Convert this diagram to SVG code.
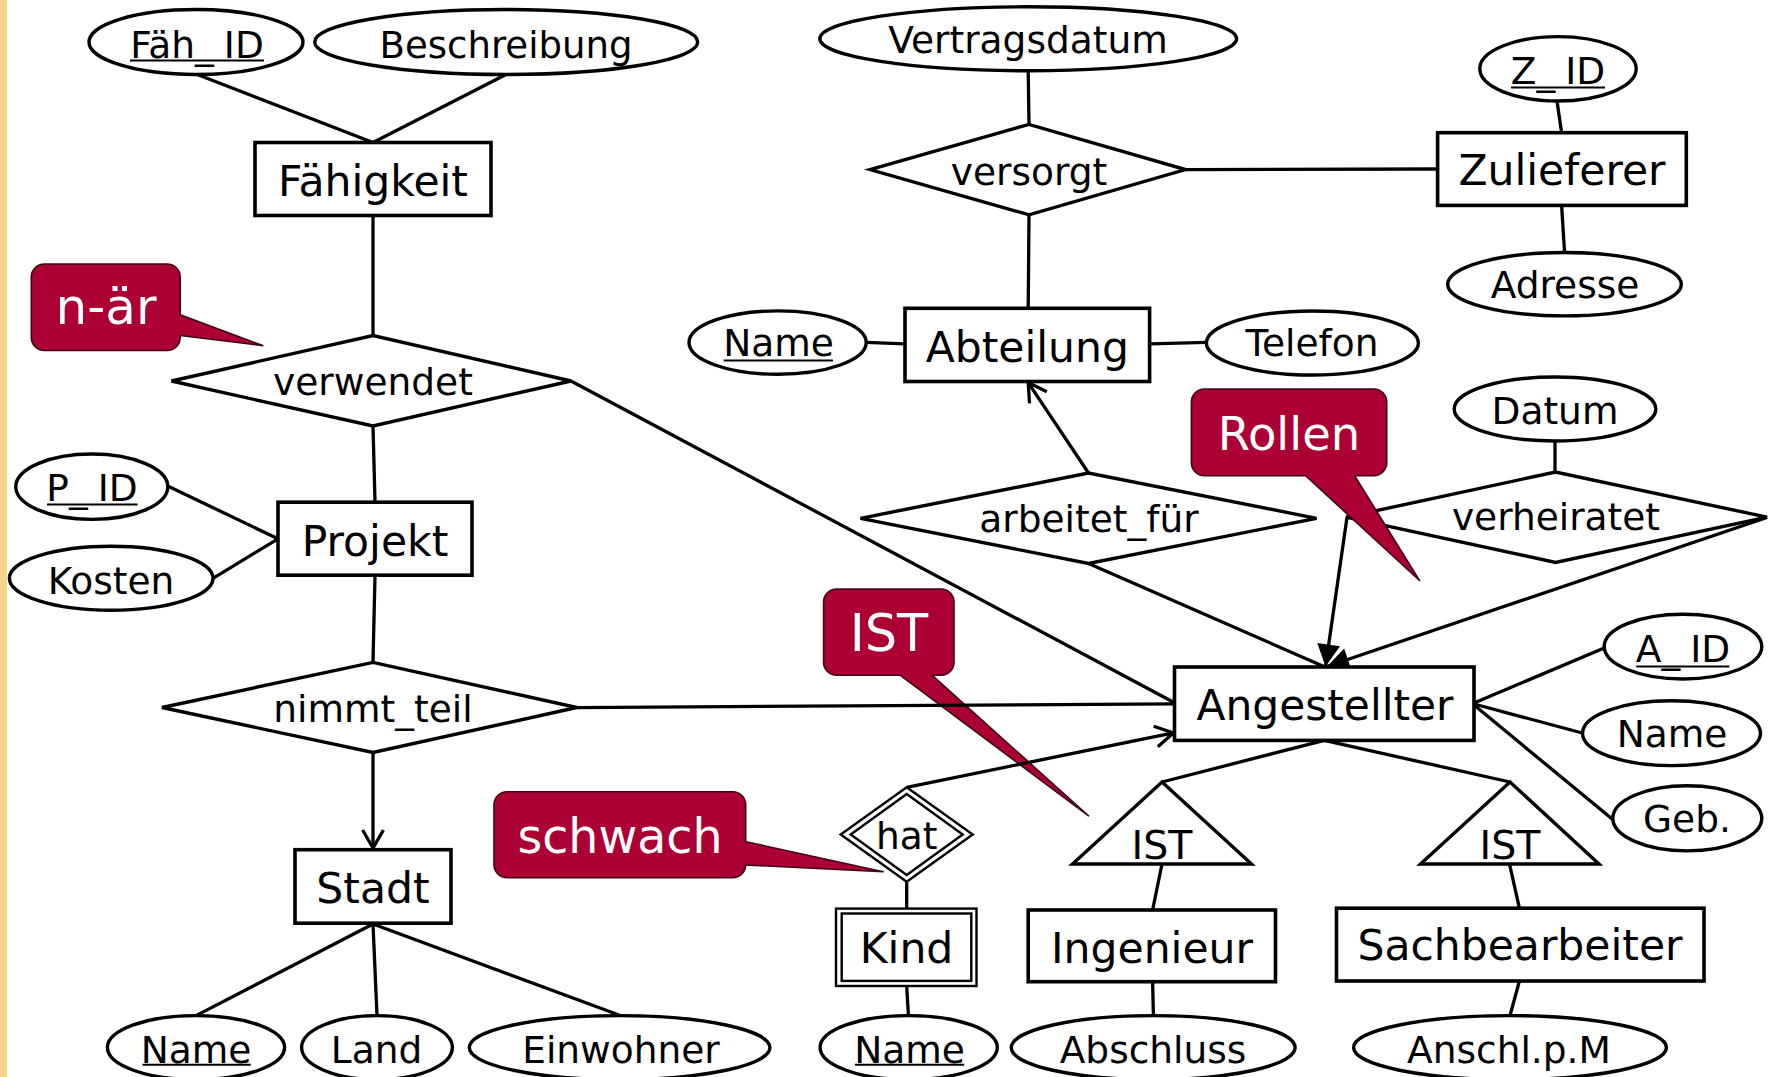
<svg xmlns="http://www.w3.org/2000/svg" width="1773" height="1077" viewBox="0 0 1773 1077">
  <defs>
    <style>
      .bg { fill: #ffffff; }
      .stripe { fill: #F9D38A; }
      .ent { fill: #ffffff; stroke: #000; stroke-width: 3.6; }
      .att { fill: #ffffff; stroke: #000; stroke-width: 3.4; }
      .rel { fill: #ffffff; stroke: #000; stroke-width: 3.4; stroke-linejoin: miter; }
      .weak { fill: #ffffff; stroke: #000; stroke-width: 2.4; }
      .isa { fill: #ffffff; stroke: #000; stroke-width: 3.4; stroke-linejoin: miter; }
      .con line { stroke: #000; stroke-width: 3.3; fill: none; }
      .ul { stroke: #000; stroke-width: 2; }
      text { font-family: "DejaVu Sans", Verdana, sans-serif; text-anchor: middle; fill: #000; }
      .t-ent { font-size: 42.5px; }
      .t-att { font-size: 37.5px; }
      .t-rel { font-size: 37.5px; }
      .t-isa { font-size: 39.5px; }
      .note { fill: #AC0034; stroke: #3d0612; stroke-width: 1.6; stroke-linejoin: round; }
      .t-note { fill: #ffffff; }
    </style>
    <marker id="open" viewBox="0 0 24 24" markerWidth="24" markerHeight="24" refX="22" refY="12" orient="auto" markerUnits="userSpaceOnUse">
      <path d="M4,1.6 L22,12 L4,22.4" fill="none" stroke="#000" stroke-width="3.3"/>
    </marker>
    <marker id="solid" viewBox="0 0 24 24" markerWidth="24" markerHeight="24" refX="23" refY="12" orient="auto" markerUnits="userSpaceOnUse">
      <path d="M1,0.5 L23,12 L1,23.5 Z" fill="#000"/>
    </marker>
  </defs>

  <rect class="bg" x="0" y="0" width="1773" height="1077"/>
  <rect class="stripe" x="0" y="0" width="7" height="1077"/>

  <!-- callout that sits beneath the connectors -->
  <g id="note-ist">
    <path class="note" d="M836.6,589 H941 A13,13 0 0 1 954,602 V662.2 A13,13 0 0 1 941,675.2 H932 L1088.5,815.8 L900,675.2 H836.6 A13,13 0 0 1 823.6,662.2 V602 A13,13 0 0 1 836.6,589 Z"/>
    <text class="t-note" x="889" y="650.5" font-size="51">IST</text>
  </g>

  <!-- connectors -->
  <g id="connectors" class="con">
    <line x1="196" y1="74" x2="373" y2="142.5"/>
    <line x1="505" y1="75" x2="373" y2="142.5"/>
    <line x1="373" y1="215.6" x2="373" y2="335.5"/>
    <line x1="373" y1="426" x2="375" y2="502.2"/>
    <line x1="167.7" y1="486" x2="278" y2="538.8"/>
    <line x1="213" y1="578.3" x2="278" y2="538.8"/>
    <line x1="375" y1="575.3" x2="373" y2="662.4"/>
    <line x1="373" y1="752.5" x2="373" y2="848" marker-end="url(#open)"/>
    <line x1="373" y1="924" x2="196" y2="1015.6"/>
    <line x1="373" y1="924" x2="377" y2="1015.6"/>
    <line x1="373" y1="924" x2="619" y2="1015"/>
    <line x1="571" y1="381" x2="1174.5" y2="702.7"/>
    <line x1="576.7" y1="707.6" x2="1174.5" y2="703.9"/>
    <line x1="1028.2" y1="71" x2="1029" y2="124.4"/>
    <line x1="1185" y1="169.6" x2="1437.6" y2="169"/>
    <line x1="1029" y1="214.8" x2="1028.2" y2="308.3"/>
    <line x1="1557" y1="101" x2="1561.6" y2="132.7"/>
    <line x1="1561.6" y1="205.4" x2="1564.6" y2="252.5"/>
    <line x1="866.2" y1="342.3" x2="905" y2="343.8"/>
    <line x1="1149.6" y1="343.8" x2="1206.5" y2="342.3"/>
    <line x1="1088.5" y1="473" x2="1028.2" y2="382.6" marker-end="url(#open)"/>
    <line x1="1088.5" y1="563.5" x2="1325" y2="667"/>
    <line x1="1555" y1="441" x2="1555" y2="472"/>
    <line x1="1347" y1="517.5" x2="1325.5" y2="666.5" marker-end="url(#solid)"/>
    <line x1="1767" y1="517.5" x2="1327" y2="666.5" marker-end="url(#solid)"/>
    <line x1="1474" y1="703" x2="1604.2" y2="648"/>
    <line x1="1474" y1="704" x2="1582.3" y2="733"/>
    <line x1="1474" y1="705" x2="1612.8" y2="819.6"/>
    <line x1="906.7" y1="787.3" x2="1173.4" y2="732.9" marker-end="url(#open)"/>
    <line x1="906.7" y1="881.7" x2="906.7" y2="908.6"/>
    <line x1="906.7" y1="986" x2="908.4" y2="1015.6"/>
    <line x1="1324.3" y1="740.4" x2="1162" y2="782"/>
    <line x1="1324.3" y1="740.4" x2="1510" y2="782"/>
    <line x1="1162" y1="864" x2="1152.6" y2="910"/>
    <line x1="1509.5" y1="864" x2="1519.4" y2="908.2"/>
    <line x1="1152.6" y1="982" x2="1153.4" y2="1015.6"/>
    <line x1="1519.4" y1="981" x2="1510" y2="1015.6"/>
  </g>

  <!-- entity sets -->
  <g id="faehigkeit">
    <rect class="ent" x="255" y="142.5" width="236" height="73"/>
    <text class="t-ent" x="373" y="196">Fähigkeit</text>
  </g>
  <g id="projekt">
    <rect class="ent" x="278" y="502.2" width="194" height="73"/>
    <text class="t-ent" x="375" y="555.5">Projekt</text>
  </g>
  <g id="stadt">
    <rect class="ent" x="295" y="849.7" width="156" height="73.5"/>
    <text class="t-ent" x="373" y="902.5">Stadt</text>
  </g>
  <g id="abteilung">
    <rect class="ent" x="905" y="308.3" width="244.6" height="73.2"/>
    <text class="t-ent" x="1027.3" y="361.8">Abteilung</text>
  </g>
  <g id="zulieferer">
    <rect class="ent" x="1437.6" y="132.7" width="248.7" height="72.7"/>
    <text class="t-ent" x="1562" y="185">Zulieferer</text>
  </g>
  <g id="angestellter">
    <rect class="ent" x="1174.5" y="667" width="299.5" height="73.4"/>
    <text class="t-ent" x="1325" y="719.7" textLength="257" lengthAdjust="spacingAndGlyphs">Angestellter</text>
  </g>
  <g id="ingenieur">
    <rect class="ent" x="1028.2" y="910" width="247.3" height="71.7"/>
    <text class="t-ent" x="1152" y="962.6">Ingenieur</text>
  </g>
  <g id="sachbearbeiter">
    <rect class="ent" x="1336.5" y="908.2" width="367.5" height="72.8"/>
    <text class="t-ent" x="1520" y="960.2">Sachbearbeiter</text>
  </g>
  <g id="kind">
    <rect class="weak" x="836" y="908.6" width="140.5" height="77.4"/>
    <rect class="weak" x="841.7" y="913.5" width="129.6" height="67.4"/>
    <text class="t-ent" x="906.5" y="963.3">Kind</text>
  </g>

  <!-- relationships -->
  <g id="verwendet">
    <polygon class="rel" points="171.5,381 373,335.5 571,381 373,426"/>
    <text class="t-rel" x="373" y="395">verwendet</text>
  </g>
  <g id="nimmt-teil">
    <polygon class="rel" points="162,707.5 373,662.4 576.7,707.5 373,752.5"/>
    <text class="t-rel" x="373" y="722">nimmt_teil</text>
  </g>
  <g id="versorgt">
    <polygon class="rel" points="870,169.6 1029,124.4 1185.5,169.6 1029,214.8"/>
    <text class="t-rel" x="1029" y="184.5">versorgt</text>
  </g>
  <g id="arbeitet-fuer">
    <polygon class="rel" points="860.5,518.3 1088.5,473 1316.5,518.3 1088.5,563.5"/>
    <text class="t-rel" x="1089" y="531.5">arbeitet_für</text>
  </g>
  <g id="verheiratet">
    <polygon class="rel" points="1346,517.2 1555.5,472 1767,517.2 1555.5,562.4"/>
    <text class="t-rel" x="1556" y="529.8">verheiratet</text>
  </g>
  <g id="hat">
    <polygon class="weak" points="840.7,834.5 906.7,787.3 972.7,834.5 906.7,881.7"/>
    <polygon class="weak" points="850.7,834.5 906.7,794 962.7,834.5 906.7,875"/>
    <text class="t-rel" x="906.7" y="849">hat</text>
  </g>

  <!-- specialisations -->
  <g id="ist-ingenieur">
    <polygon class="isa" points="1162,782 1251.5,864 1072.5,864"/>
    <text class="t-isa" x="1162" y="859">IST</text>
  </g>
  <g id="ist-sachbearbeiter">
    <polygon class="isa" points="1510,782 1599,864 1420.5,864"/>
    <text class="t-isa" x="1510" y="859">IST</text>
  </g>

  <!-- attributes -->
  <g id="att-faeh-id">
    <ellipse class="att" cx="196" cy="42" rx="107" ry="32.5"/>
    <text class="t-att" x="197" y="58.4">Fäh_<tspan dx="10">ID</tspan></text>
    <line class="ul" x1="130" y1="60.6" x2="264" y2="60.6"/>
  </g>
  <g id="att-beschreibung">
    <ellipse class="att" cx="506.2" cy="42" rx="191.5" ry="32.5"/>
    <text class="t-att" x="506" y="58.4" textLength="253" lengthAdjust="spacingAndGlyphs">Beschreibung</text>
  </g>
  <g id="att-p-id">
    <ellipse class="att" cx="91.8" cy="486.7" rx="76" ry="32.7"/>
    <text class="t-att" x="92" y="501.3">P_<tspan dx="10">ID</tspan></text>
    <line class="ul" x1="47" y1="504.5" x2="137.6" y2="504.5"/>
  </g>
  <g id="att-kosten">
    <ellipse class="att" cx="111.2" cy="578.3" rx="101.8" ry="32"/>
    <text class="t-att" x="111" y="593.8">Kosten</text>
  </g>
  <g id="att-stadt-name">
    <ellipse class="att" cx="196" cy="1047.6" rx="88.6" ry="32"/>
    <text class="t-att" x="196" y="1062.7">Name</text>
    <line class="ul" x1="142.5" y1="1064.8" x2="250.7" y2="1064.8"/>
  </g>
  <g id="att-land">
    <ellipse class="att" cx="377" cy="1047.6" rx="75.4" ry="32"/>
    <text class="t-att" x="376.5" y="1062.7">Land</text>
  </g>
  <g id="att-einwohner">
    <ellipse class="att" cx="619.6" cy="1047.6" rx="150.3" ry="32"/>
    <text class="t-att" x="621" y="1062.7">Einwohner</text>
  </g>
  <g id="att-vertragsdatum">
    <ellipse class="att" cx="1028.2" cy="38.8" rx="208.4" ry="32"/>
    <text class="t-att" x="1028" y="52.8">Vertragsdatum</text>
  </g>
  <g id="att-z-id">
    <ellipse class="att" cx="1558" cy="68.8" rx="78.2" ry="32.2"/>
    <text class="t-att" x="1558" y="83.7">Z_<tspan dx="10">ID</tspan></text>
    <line class="ul" x1="1511" y1="87.6" x2="1605" y2="87.6"/>
  </g>
  <g id="att-adresse">
    <ellipse class="att" cx="1564.5" cy="284.2" rx="116.8" ry="31.7"/>
    <text class="t-att" x="1565" y="297.8">Adresse</text>
  </g>
  <g id="att-abteilung-name">
    <ellipse class="att" cx="777.6" cy="342.6" rx="88.6" ry="31.7"/>
    <text class="t-att" x="778.5" y="356.2">Name</text>
    <line class="ul" x1="723.7" y1="360.6" x2="833" y2="360.6"/>
  </g>
  <g id="att-telefon">
    <ellipse class="att" cx="1312.4" cy="343" rx="106" ry="32"/>
    <text class="t-att" x="1312" y="356.2">Telefon</text>
  </g>
  <g id="att-datum">
    <ellipse class="att" cx="1555" cy="409" rx="100.8" ry="32"/>
    <text class="t-att" x="1555" y="424">Datum</text>
  </g>
  <g id="att-a-id">
    <ellipse class="att" cx="1683" cy="646.6" rx="78.8" ry="32.4"/>
    <text class="t-att" x="1683" y="662.4">A_<tspan dx="10">ID</tspan></text>
    <line class="ul" x1="1636.2" y1="666.6" x2="1729.3" y2="666.6"/>
  </g>
  <g id="att-angestellter-name">
    <ellipse class="att" cx="1671.5" cy="733.2" rx="89" ry="32.4"/>
    <text class="t-att" x="1672" y="746.8">Name</text>
  </g>
  <g id="att-geb">
    <ellipse class="att" cx="1687.3" cy="818.3" rx="74.5" ry="32.6"/>
    <text class="t-att" x="1687" y="832">Geb.</text>
  </g>
  <g id="att-kind-name">
    <ellipse class="att" cx="908.7" cy="1047.6" rx="88.6" ry="32"/>
    <text class="t-att" x="909.5" y="1062.7">Name</text>
    <line class="ul" x1="854.9" y1="1064.8" x2="964.2" y2="1064.8"/>
  </g>
  <g id="att-abschluss">
    <ellipse class="att" cx="1153.2" cy="1047.6" rx="141.9" ry="32"/>
    <text class="t-att" x="1153" y="1062.7">Abschluss</text>
  </g>
  <g id="att-anschl">
    <ellipse class="att" cx="1510" cy="1047.6" rx="156.4" ry="32"/>
    <text class="t-att" x="1509" y="1062.7">Anschl.p.M</text>
  </g>

  <!-- callouts -->
  <g id="note-naer">
    <path class="note" d="M44.3,264 H167.2 A13,13 0 0 1 180.2,277 V314.7 L262.7,345.6 L180.2,335.5 V337.5 A13,13 0 0 1 167.2,350.5 H44.3 A13,13 0 0 1 31.3,337.5 V277 A13,13 0 0 1 44.3,264 Z"/>
    <text class="t-note" x="106" y="324.2" font-size="50">n-är</text>
  </g>
  <g id="note-rollen">
    <path class="note" d="M1204.4,389 H1373.7 A13,13 0 0 1 1386.7,402 V462.7 A13,13 0 0 1 1373.7,475.7 H1354.6 L1419.5,580.5 L1305.6,475.7 H1204.4 A13,13 0 0 1 1191.4,462.7 V402 A13,13 0 0 1 1204.4,389 Z"/>
    <text class="t-note" x="1289" y="450.4" font-size="46.5">Rollen</text>
  </g>
  <g id="note-schwach">
    <path class="note" d="M507,791.7 H732.7 A13,13 0 0 1 745.7,804.7 V841.7 L883.3,871.7 L745.7,865 V864.7 A13,13 0 0 1 732.7,877.7 H507 A13,13 0 0 1 494,864.7 V804.7 A13,13 0 0 1 507,791.7 Z"/>
    <text class="t-note" x="620" y="853.3" font-size="47.5">schwach</text>
  </g>
</svg>
